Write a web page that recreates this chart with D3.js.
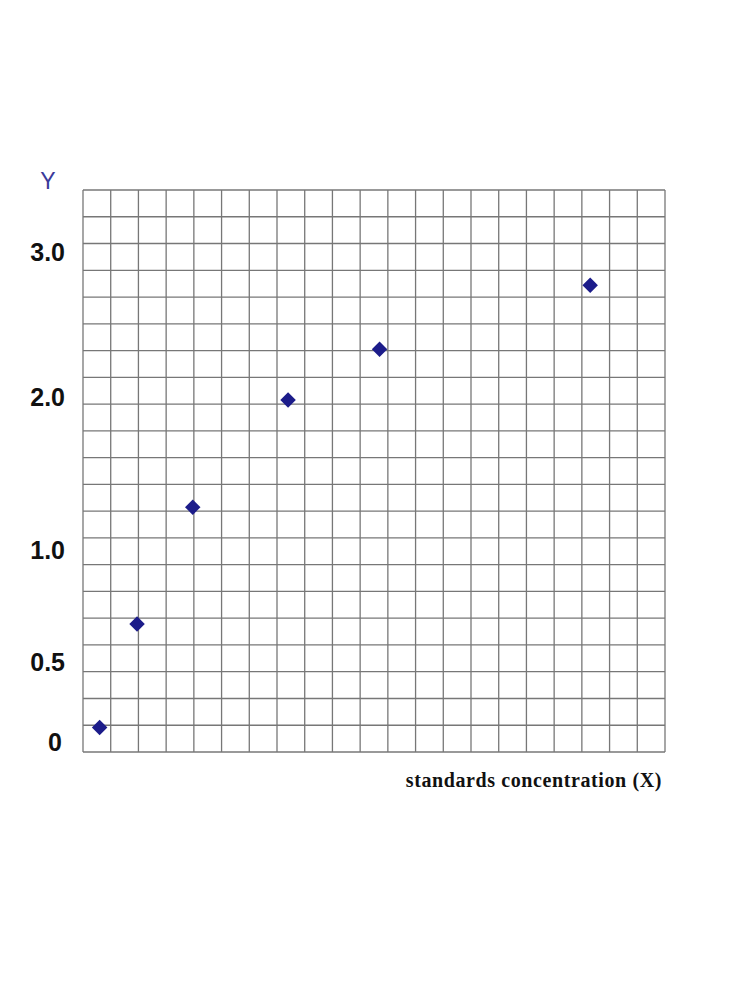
<!DOCTYPE html><html><head><script src="https://cdn.jsdelivr.net/npm/d3@7"></script>
<style>body{margin:0;background:#fff}</style></head><body><svg id="c" width="750" height="1000"></svg>
<script>
const xValues=[0.6,1.95,3.96,7.4,10.7,18.3];
const yValues=[0.09,0.67,1.28,1.98,2.33,2.77];
const yTickLabels=["0","0.5","1.0","2.0","3.0"];
const yTickValues=[0,0.5,1,2,3];
const gridCount=21;
const svg=d3.select("#c");
const L=83,R=665,T=190,B=752;
const gx=d3.scaleLinear().domain([0,gridCount]).range([L,R]);
const gy=d3.scaleLinear().domain([0,gridCount]).range([B,T]);
const y=d3.scaleLinear().domain([-0.06,0,0.5,1,2,3,3.43]).range([B,742,662,550,397,252,T]);
const g=svg.append("g");
g.selectAll(".v").data(d3.range(gridCount+1)).join("line").attr("x1",d=>gx(d)).attr("x2",d=>gx(d)).attr("y1",T).attr("y2",B).attr("stroke","#777").attr("stroke-width",1.3);
g.selectAll(".h").data(d3.range(gridCount+1)).join("line").attr("y1",d=>gy(d)).attr("y2",d=>gy(d)).attr("x1",L).attr("x2",R).attr("stroke","#777").attr("stroke-width",1.3);
svg.selectAll(".t").data(yTickValues).join("text").attr("x",d=>d===0?62:65).attr("y",d=>y(d)).attr("dy","0.36em").attr("text-anchor","end")
 .attr("font-family","Liberation Sans, Arial").attr("font-weight","bold").attr("font-size",25).attr("fill","#111").text((d,i)=>yTickLabels[i]);
svg.append("text").attr("x",48).attr("y",189).attr("text-anchor","middle").attr("font-family","Liberation Sans, Arial").attr("font-size",23).attr("fill","#3a3a9a").text("Y");
svg.append("text").attr("x",662).attr("y",787).attr("text-anchor","end").attr("font-family","Liberation Serif, Times New Roman").attr("font-weight","bold").attr("font-size",20).attr("letter-spacing",0.6).attr("fill","#111").text("standards concentration (X)");
svg.selectAll(".p").data(xValues).join("path").attr("d",d3.symbol(d3.symbolSquare,120)())
 .attr("transform",(d,i)=>`translate(${gx(d)},${y(yValues[i])}) rotate(45)`).attr("fill","#1c1c8a");
</script></body></html>
